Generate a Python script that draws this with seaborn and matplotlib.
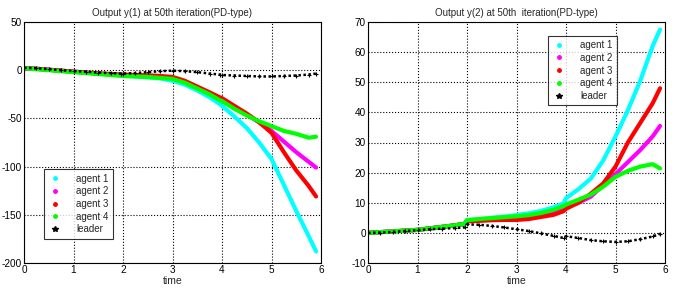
import pandas as pd
import matplotlib
matplotlib.use("Agg")
import matplotlib.pyplot as plt
from matplotlib.lines import Line2D
import seaborn as sns

# time samples
t = [0, 0.25, 0.5, 0.75, 1, 1.25, 1.5, 1.75, 1.95, 2, 2.25, 2.5, 2.75, 3,
     3.25, 3.5, 3.75, 3.95, 4, 4.25, 4.5, 4.75, 5, 5.25, 5.5, 5.75, 5.9]

# output y(1)
y1_agent1 = [2, 1.5, 0.5, -0.5, -1.5, -2.5, -3.5, -4.5, -5.3, -5.5, -6.5, -7.5, -8.5, -11,
             -15, -21, -28, -35, -37, -48, -60, -75, -92, -119, -146, -172, -188]
y1_agent2 = [2, 1.5, 0.5, -0.5, -1.5, -2.5, -3.5, -4.3, -5, -5.2, -5.8, -6.3, -7, -8,
             -12, -18, -24, -29, -30, -38, -46, -54, -63, -74, -85, -95, -101]
y1_agent3 = [2, 1.5, 0.5, -0.5, -1.5, -2.5, -3.3, -4, -4.5, -4.6, -5, -5.3, -6, -7,
             -11, -17, -23, -28, -29, -37, -45, -54, -65, -85, -104, -120, -131]
y1_agent4 = [2, 1, 0, -1, -2, -3, -4, -5, -5.8, -6, -6.5, -7, -8, -9,
             -13, -19, -25, -31, -32, -40, -47, -53, -58, -63, -66, -70, -69]
y1_leader = [2.5, 2, 1, 0, -1, -1.5, -2.5, -3, -3.5, -3.5, -3, -2, -1, -0.5,
             -1, -2, -3.5, -4.5, -5, -5.5, -6, -6.5, -6.5, -6, -5.5, -4.5, -3.5]

# output y(2)
y2_agent1 = [0, 0.25, 0.5, 0.75, 1, 1.5, 2, 2.5, 3, 4.3, 4.5, 5, 5.4, 5.9,
             6.5, 7.3, 8.5, 9.8, 11.5, 14.5, 18, 24, 32, 40.7, 50.5, 62, 67.5]
y2_agent2 = [0, 0.25, 0.5, 0.75, 1, 1.5, 2, 2.5, 3, 4, 4.3, 4.6, 4.9, 5.2,
             5.5, 6.2, 7, 8, 8.5, 10, 12, 15.8, 19.5, 23.5, 27.5, 32, 35.5]
y2_agent3 = [0, 0.25, 0.5, 0.75, 1, 1.5, 2, 2.5, 3, 3.8, 4, 4.2, 4.3, 4.3,
             4.6, 5.3, 6, 7.2, 8, 10, 13, 16.4, 22, 30, 36.5, 43, 48]
y2_agent4 = [0, 0.25, 0.5, 0.75, 1, 1.5, 2, 2.5, 3, 4.2, 4.6, 4.9, 5.2, 5.5,
             5.9, 6.6, 7.7, 8.9, 9.4, 11, 12.7, 15.3, 18.6, 20.6, 22, 22.8, 21.4]
y2_leader = [0, 0.1, 0.3, 0.6, 0.9, 1.2, 1.4, 1.6, 1.8, 2.8, 2.7, 2.3, 1.8, 1.2,
             0.6, -0.2, -1.0, -1.7, -1.1, -1.7, -2.4, -2.8, -3.0, -2.8, -2.1, -1.2, -0.3]

agents = ["agent 1", "agent 2", "agent 3", "agent 4"]
colors = {"agent 1": "#00ffff", "agent 2": "#ff00ff", "agent 3": "#ff0000", "agent 4": "#00ff00"}


def long_df(series):
    rows = []
    for name, vals in zip(agents, series):
        for ti, v in zip(t, vals):
            rows.append({"time": ti, "y": v, "agent": name})
    return pd.DataFrame(rows)


df1 = long_df([y1_agent1, y1_agent2, y1_agent3, y1_agent4])
df2 = long_df([y2_agent1, y2_agent2, y2_agent3, y2_agent4])

sns.set_style("white")
plt.rcParams["font.family"] = ["Liberation Sans", "DejaVu Sans"]
plt.rcParams["axes.unicode_minus"] = False

fig = plt.figure(figsize=(6.8, 3.02), dpi=100)
ax1 = fig.add_axes([24 / 680, 39 / 302, 297 / 680, 241 / 302])
ax2 = fig.add_axes([368 / 680, 39 / 302, 297 / 680, 241 / 302])

handles = [Line2D([], [], ls="none", marker=".", color=colors[a], markersize=5) for a in agents]
handles.append(Line2D([], [], ls="none", marker="*", color="black", markersize=4))
labels = agents + ["leader"]

panels = [
    (ax1, df1, y1_leader, "Output y(1) at 50th iteration(PD-type)", (-200, 50), range(-200, 51, 50), "lower left", (0.05, 0.08)),
    (ax2, df2, y2_leader, "Output y(2) at 50th  iteration(PD-type)", (-10, 70), range(-10, 71, 10), "upper right", (0.855, 0.963)),
]

for ax, df, leader, title, ylim, yticks, loc, anchor in panels:
    sns.lineplot(data=df, x="time", y="y", hue="agent", palette=colors,
                 linewidth=3, ax=ax, legend=False)
    ax.plot(t, leader, color="black", lw=1.8, ls=(0, (1, 1)))
    ax.plot(t, leader, color="black", lw=0, marker="+", markersize=3, mew=0.8)
    ax.set_xlim(0, 6)
    ax.set_ylim(*ylim)
    ax.set_yticks(list(yticks))
    ax.set_xticks(range(0, 7))
    ax.grid(True, color="black", ls=":", lw=0.8)
    for s in ax.spines.values():
        s.set_color("black")
        s.set_linewidth(0.8)
    ax.tick_params(labelsize=7.2, direction="in", length=3, colors="black", pad=1.5)
    ax.set_title(title, fontsize=7, pad=4)
    ax.set_xlabel("time", fontsize=7.5, labelpad=1)
    ax.set_ylabel("")
    leg = ax.legend(handles, labels, loc=loc, bbox_to_anchor=anchor, fontsize=7,
                    frameon=True, fancybox=False, edgecolor="black",
                    handlelength=1.5, handletextpad=1.4, borderpad=0.45,
                    labelspacing=0.28)
    leg.get_frame().set_linewidth(0.8)

fig.savefig("out.png", dpi=100)
